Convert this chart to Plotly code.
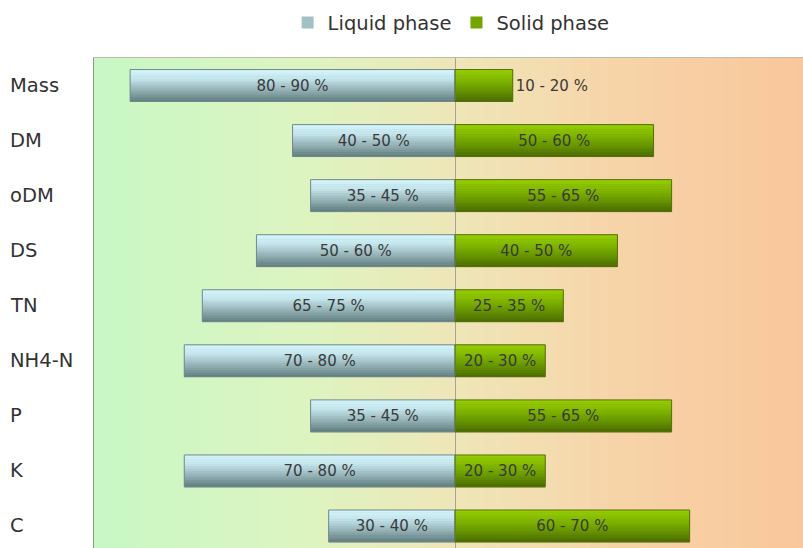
import plotly.graph_objects as go

categories = ["Mass", "DM", "oDM", "DS", "TN", "NH4-N", "P", "K", "C"]
liquid_values = [90, 45, 40, 55, 70, 75, 40, 75, 35]
solid_values = [16, 55, 60, 45, 30, 25, 60, 25, 65]
liquid_labels = ["80 - 90 %", "40 - 50 %", "35 - 45 %", "50 - 60 %", "65 - 75 %",
                 "70 - 80 %", "35 - 45 %", "70 - 80 %", "30 - 40 %"]
solid_labels = ["10 - 20 %", "50 - 60 %", "55 - 65 %", "40 - 50 %", "25 - 35 %",
                "20 - 30 %", "55 - 65 %", "20 - 30 %", "60 - 70 %"]
series_names = ["Liquid phase", "Solid phase"]

idx = list(range(len(categories)))
liq_x = [-v for v in liquid_values]

BAR_W = 0.58
N_BANDS = 14
FONT = "DejaVu Sans, Liberation Sans, Arial"


def hex2rgb(h):
    h = h.lstrip("#")
    return tuple(int(h[i:i + 2], 16) for i in (0, 2, 4))


def interp(stops, t):
    for (t0, c0), (t1, c1) in zip(stops[:-1], stops[1:]):
        if t0 <= t <= t1:
            f = (t - t0) / (t1 - t0) if t1 > t0 else 0
            a, b = hex2rgb(c0), hex2rgb(c1)
            return "rgb(%d,%d,%d)" % tuple(round(a[i] + (b[i] - a[i]) * f) for i in range(3))
    return "rgb(%d,%d,%d)" % hex2rgb(stops[-1][1])


liq_stops = [(0, "#d6f6fc"), (0.3, "#c2e4ea"), (0.65, "#93b0b5"), (1, "#5e7b7c")]
sol_stops = [(0, "#98cf02"), (0.4, "#7bb000"), (0.75, "#5f8a00"), (1, "#4a6804")]
bg_stops = [(0, "#c8f8c6"), (0.3, "#ddf4c0"), (0.5, "#eee7b8"), (0.75, "#f7d3a8"), (1, "#f9c79b")]

fig = go.Figure()

for name, xs, stops, mid in [
    (series_names[0], liq_x, liq_stops, "#a3c0c5"),
    (series_names[1], solid_values, sol_stops, "#74a400"),
]:
    fig.add_trace(go.Bar(
        y=idx, x=xs, orientation="h", width=BAR_W, name=name,
        marker=dict(color=mid, line=dict(width=0)), hoverinfo="skip",
        legendgroup=name, showlegend=True,
    ))
    for k in range(N_BANDS):
        t = (k + 0.5) / N_BANDS
        fig.add_trace(go.Bar(
            y=idx, x=xs, orientation="h",
            width=BAR_W / N_BANDS + 0.006,
            offset=-BAR_W / 2 + k * BAR_W / N_BANDS,
            marker=dict(color=interp(stops, t), line=dict(width=0)),
            showlegend=False, hoverinfo="skip", legendgroup=name,
        ))

for xs, labels, line_c, positions in [
    (liq_x, liquid_labels, "#71898b", ["inside"] * len(categories)),
    (solid_values, solid_labels, "#56700e",
     ["outside" if v < 20 else "inside" for v in solid_values]),
]:
    fig.add_trace(go.Bar(
        y=idx, x=xs, orientation="h", width=BAR_W,
        marker=dict(color="rgba(0,0,0,0)", line=dict(color=line_c, width=1)),
        text=labels, textposition=positions, insidetextanchor="middle",
        textfont=dict(family=FONT, size=15, color="#3a3a3a"),
        constraintext="none", cliponaxis=False,
        showlegend=False, hoverinfo="skip",
    ))

# background gradient
N_BG = 80
shapes = []
for k in range(N_BG):
    shapes.append(dict(
        type="rect", xref="paper", yref="paper", layer="below",
        x0=k / N_BG, x1=(k + 1) / N_BG + 0.002, y0=0, y1=1,
        fillcolor=interp(bg_stops, (k + 0.5) / N_BG), line=dict(width=0),
    ))

annotations = []
for i, c in enumerate(categories):
    annotations.append(dict(
        x=-0.1213, xref="paper", y=i, yref="y", text=c, showarrow=False,
        xanchor="left", yanchor="middle",
        font=dict(family=FONT, size=19.5, color="#333333"),
    ))

fig.update_layout(
    width=803, height=548,
    margin=dict(l=94, r=0, t=58, b=0),
    barmode="overlay",
    paper_bgcolor="white", plot_bgcolor="rgba(0,0,0,0)",
    shapes=shapes, annotations=annotations,
    legend=dict(orientation="h", x=0.5037, xanchor="center", y=1.072, yanchor="middle",
                font=dict(family=FONT, size=19.5, color="#333333"),
                bgcolor="rgba(0,0,0,0)", itemwidth=30),
    xaxis=dict(range=[-100, 96.4], showticklabels=False, ticks="", showgrid=False,
               zeroline=True, zerolinecolor="#a4a490", zerolinewidth=1,
               showline=True, side="top", linecolor="#b9bfae", linewidth=1, fixedrange=True),
    yaxis=dict(range=[8.4, -0.5], showticklabels=False, ticks="", showgrid=False,
               zeroline=False, showline=True, linecolor="#8b9685", linewidth=1,
               tickvals=idx, fixedrange=True),
    showlegend=True,
)

fig.write_html("out.html")
